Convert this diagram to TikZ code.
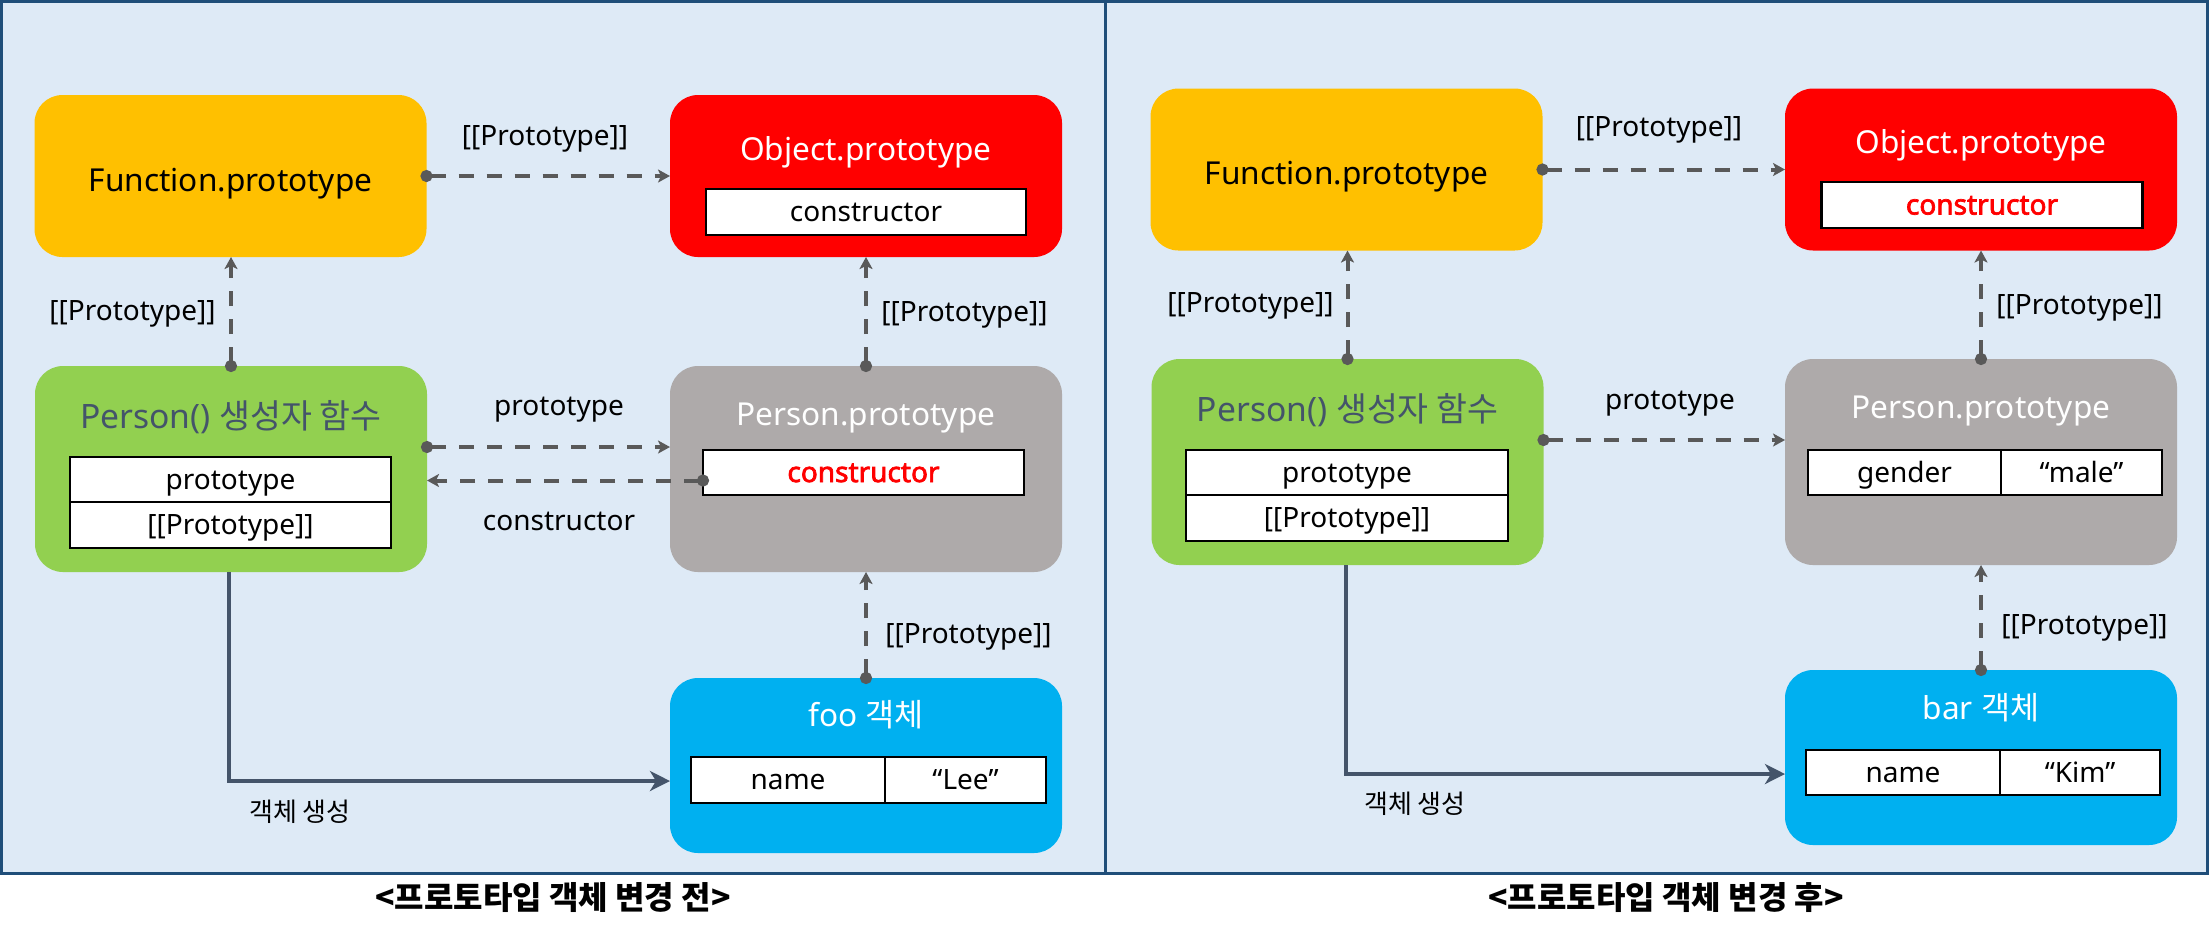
\documentclass[tikz,border=0pt]{standalone}
\usepackage{fontspec}
\setmainfont{Noto Sans}[AutoFakeBold=2.5]
\newfontfamily\kr{Noto Sans CJK KR}
\usetikzlibrary{arrows.meta}
\definecolor{panelbg}{HTML}{DEEAF6}
\definecolor{panelline}{HTML}{1F4E79}
\definecolor{cfunc}{HTML}{FFC000}
\definecolor{cobj}{HTML}{FF0000}
\definecolor{cperson}{HTML}{92D050}
\definecolor{cpproto}{HTML}{AEAAAA}
\definecolor{cinst}{HTML}{00B0F0}
\definecolor{ctitle}{HTML}{44546A}
\definecolor{cdash}{HTML}{595959}
\definecolor{csolid}{HTML}{44546A}
\begin{document}
\begin{tikzpicture}[x=0.5pt,y=-0.5pt,
 panel/.style={fill=panelbg,draw=panelline,line width=1.5pt},
 objbox/.style={rounded corners=14pt,minimum width=196pt,inner sep=0pt,outer sep=0pt},
 titletxt/.style={font=\fontsize{15.8}{18}\selectfont,anchor=base,inner sep=0pt},
 cell/.style={draw=black,line width=1.2pt,fill=white,inner sep=0pt,outer sep=0pt,minimum height=22.75pt,text height=10.5pt,text depth=1pt,font=\fontsize{14}{16}\selectfont},
 redcell/.style={cell,text=red,font=\fontsize{14}{16}\selectfont\bfseries},
 lbl/.style={font=\fontsize{14}{16}\selectfont,anchor=base,inner sep=0pt},
 krlbl/.style={lbl,font=\kr\fontsize{13}{16}\selectfont},
 link/.style={draw=cdash,line width=2pt,dash pattern=on 7.5pt off 6.5pt,{Circle[length=6pt,width=6pt]}-{Stealth[length=6pt,width=6.5pt,inset=1.5pt]},shorten <=-3pt},
 make/.style={draw=csolid,line width=2pt,-{Stealth[length=10pt,width=10pt,inset=3pt]}},
 captxt/.style={font=\kr\bfseries\fontsize{16}{19}\selectfont,anchor=base}
]
\useasboundingbox (0,0) rectangle (2210,934);
\path[panel] (1.5,1.5) rectangle (1105.5,873.5);
\path[panel] (1105.5,1.5) rectangle (2207.5,873);

% ---------- left panel ----------
\node[objbox,fill=cfunc,minimum height=81pt] (F1) at (230.5,176) {};
\node[titletxt] (F1t) at (230.5,191) {Function.prototype};
\node[objbox,fill=cobj,minimum height=81pt] (O1) at (866,176) {};
\node[titletxt,text=white] (O1t) at (866,160) {Object.prototype};
\node[cell,minimum width=160pt,minimum height=23pt] (O1c) at (866,212) {constructor};
\node[objbox,fill=cperson,minimum height=103pt] (P1) at (231,469) {};
\node[titletxt,text=ctitle,font=\fontsize{16.8}{19}\selectfont] (P1t) at (231,428) {Person() {\kr 생성자 함수}};
\node[cell,minimum width=160.5pt] (P1a) at (230.5,479.5) {prototype};
\node[cell,minimum width=160.5pt,anchor=north] (P1b) at (P1a.south) {[[Prototype]]};
\node[objbox,fill=cpproto,minimum height=103pt] (PP1) at (866,469) {};
\node[titletxt,text=white] (PP1t) at (866,425) {Person.prototype};
\node[redcell,minimum width=160.5pt] (PP1c) at (863.5,472.5) {constructor};
\node[objbox,fill=cinst,minimum height=87.5pt] (foo) at (866,765.5) {};
\node[titletxt,text=white] (foot) at (866,726) {foo {\kr 객체}};
\node[cell,minimum width=97pt,minimum height=23pt] (fooK) at (788,780) {name};
\node[cell,minimum width=80.5pt,minimum height=23pt,anchor=west] (fooV) at (fooK.east) {“Lee”};

\draw[link] (F1.east) -- (O1.west);
\node[lbl] (l1) at (545,145) {[[Prototype]]};
\draw[link] (P1.north) -- (P1.north |- F1.south);
\node[lbl,anchor=base east] (l2) at (216,320) {[[Prototype]]};
\draw[link] (PP1.north) -- (O1.south);
\node[lbl,anchor=base west] (l3) at (881,321) {[[Prototype]]};
\draw[link] ([yshift=11pt]P1.east) -- ([yshift=11pt]P1.east -| PP1.west);
\node[lbl] (l4) at (559,415) {prototype};
\draw[link] ([yshift=-4pt]PP1c.west) -- ([yshift=-4pt]PP1c.west -| P1.east);
\node[lbl] (l5) at (559,530) {constructor};
\draw[link] (foo.north) -- (PP1.south);
\node[lbl,anchor=base west] (l6) at (885,643) {[[Prototype]]};
\draw[make] ([xshift=-1pt]P1.south) |- ([yshift=-7.75pt]foo.west);
\node[krlbl] (l7) at (300,821) {객체 생성};
\node[captxt] (cap1) at (553,909) {<프로토타입 객체 변경 전>};

% ---------- right panel ----------
\begin{scope}[shift={(1115,-7)}]
\node[objbox,fill=cfunc,minimum height=81pt] (F2) at (231.5,176.5) {};
\node[titletxt] (F2t) at (231.5,191.5) {Function.prototype};
\node[objbox,fill=cobj,minimum height=81pt] (O2) at (866,176.5) {};
\node[titletxt,text=white] (O2t) at (866,160.5) {Object.prototype};
\node[redcell,minimum width=160.5pt,minimum height=23pt] (O2c) at (867,212) {constructor};
\node[objbox,fill=cperson,minimum height=103pt] (P2) at (232.5,469) {};
\node[titletxt,text=ctitle,font=\fontsize{16.8}{19}\selectfont] (P2t) at (232.5,428) {Person() {\kr 생성자 함수}};
\node[cell,minimum width=161pt] (P2a) at (232,479.5) {prototype};
\node[cell,minimum width=161pt,anchor=north] (P2b) at (P2a.south) {[[Prototype]]};
\node[objbox,fill=cpproto,minimum height=103pt] (PP2) at (866,469) {};
\node[titletxt,text=white] (PP2t) at (866,425) {Person.prototype};
\node[cell,minimum width=96.5pt] (PP2k) at (789.5,479.5) {gender};
\node[cell,minimum width=80.5pt,anchor=west] (PP2v) at (PP2k.east) {“male”};
\node[objbox,fill=cinst,minimum height=87.5pt] (bar) at (866,764.5) {};
\node[titletxt,text=white] (bart) at (866,726) {bar {\kr 객체}};
\node[cell,minimum width=97pt,minimum height=22.5pt] (barK) at (788,779.5) {name};
\node[cell,minimum width=80pt,minimum height=22.5pt,anchor=west] (barV) at (barK.east) {“Kim”};

\draw[link] (F2.east) -- (O2.west);
\node[lbl] (r1) at (544,143) {[[Prototype]]};
\draw[link] (P2.north) -- (P2.north |- F2.south);
\node[lbl,anchor=base east] (r2) at (219,319) {[[Prototype]]};
\draw[link] (PP2.north) -- (O2.south);
\node[lbl,anchor=base west] (r3) at (881,321) {[[Prototype]]};
\draw[link] ([yshift=11pt]P2.east) -- ([yshift=11pt]P2.east -| PP2.west);
\node[lbl] (r4) at (555,416) {prototype};
\draw[link] (bar.north) -- (PP2.south);
\node[lbl,anchor=base west] (r6) at (886,641) {[[Prototype]]};
\draw[make] ([xshift=-1pt]P2.south) |- ([yshift=-8.25pt]bar.west);
\node[krlbl] (r7) at (300,820) {객체 생성};
\end{scope}
\node[captxt] (cap2) at (1666,909) {<프로토타입 객체 변경 후>};
\end{tikzpicture}
\end{document}
